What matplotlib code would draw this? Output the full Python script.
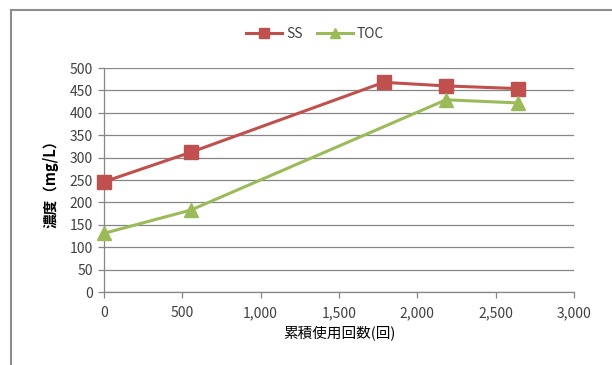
import matplotlib.pyplot as plt
from matplotlib.lines import Line2D
from matplotlib.ticker import FuncFormatter, MultipleLocator

plt.rcParams['font.family'] = ['Noto Sans CJK JP', 'DejaVu Sans']

# cumulative uses vs concentration (mg/L)
ss_x = [0, 555, 1785, 2183, 2643]
ss_y = [246, 312, 468, 460, 454]
toc_x = [0, 555, 2183, 2643]
toc_y = [131, 183, 429, 422]

red = '#C0504D'
green = '#9BBB59'
grid_c = '#868686'
text_c = '#404040'

fig = plt.figure(figsize=(6.12, 3.65), dpi=100)
ax = fig.add_axes([104 / 612, 1 - 292 / 365, 470 / 612, 224 / 365])

ax.plot(ss_x, ss_y, color=red, lw=2.2, marker='s', markersize=9.5, label='SS',
        clip_on=False, zorder=3)
ax.plot(toc_x, toc_y, color=green, lw=2.2, marker='^', markersize=10, label='TOC',
        clip_on=False, zorder=3)

ax.set_xlim(0, 3000)
ax.set_ylim(0, 500)
ax.xaxis.set_major_locator(MultipleLocator(500))
ax.yaxis.set_major_locator(MultipleLocator(50))
ax.xaxis.set_major_formatter(FuncFormatter(lambda v, p: f'{int(v):,}'))
ax.grid(axis='y', color=grid_c, lw=0.9)
ax.set_axisbelow(True)

for s in ['top', 'right']:
    ax.spines[s].set_visible(False)
for s in ['left', 'bottom']:
    ax.spines[s].set_color(grid_c)
    ax.spines[s].set_linewidth(0.9)
ax.tick_params(axis='both', colors=grid_c, length=4, width=0.9, labelsize=10,
               labelcolor=text_c)
ax.tick_params(axis='x', pad=6)
ax.tick_params(axis='y', pad=4)

ax.set_xlabel('累積使用回数(回)', fontsize=10.5, color='black', labelpad=4)
ax.set_ylabel('濃度（mg/L）', fontsize=10.5, color='black', fontweight='bold', labelpad=8)

leg = fig.legend(loc='center', bbox_to_anchor=(315 / 612, 1 - 34 / 365), ncol=2,
                 frameon=False, fontsize=10, handlelength=2.6, columnspacing=1.0,
                 handletextpad=0.3, markerscale=0.7)
for t in leg.get_texts():
    t.set_color(text_c)

# outer frame (top and left edges)
fig.add_artist(Line2D([11 / 612, 1], [1 - 10 / 365, 1 - 10 / 365], color='#8C8C8C', lw=1.5))
fig.add_artist(Line2D([11 / 612, 11 / 612], [0, 1 - 10 / 365], color='#8C8C8C', lw=1.5))

fig.savefig('out.png', dpi=100)
